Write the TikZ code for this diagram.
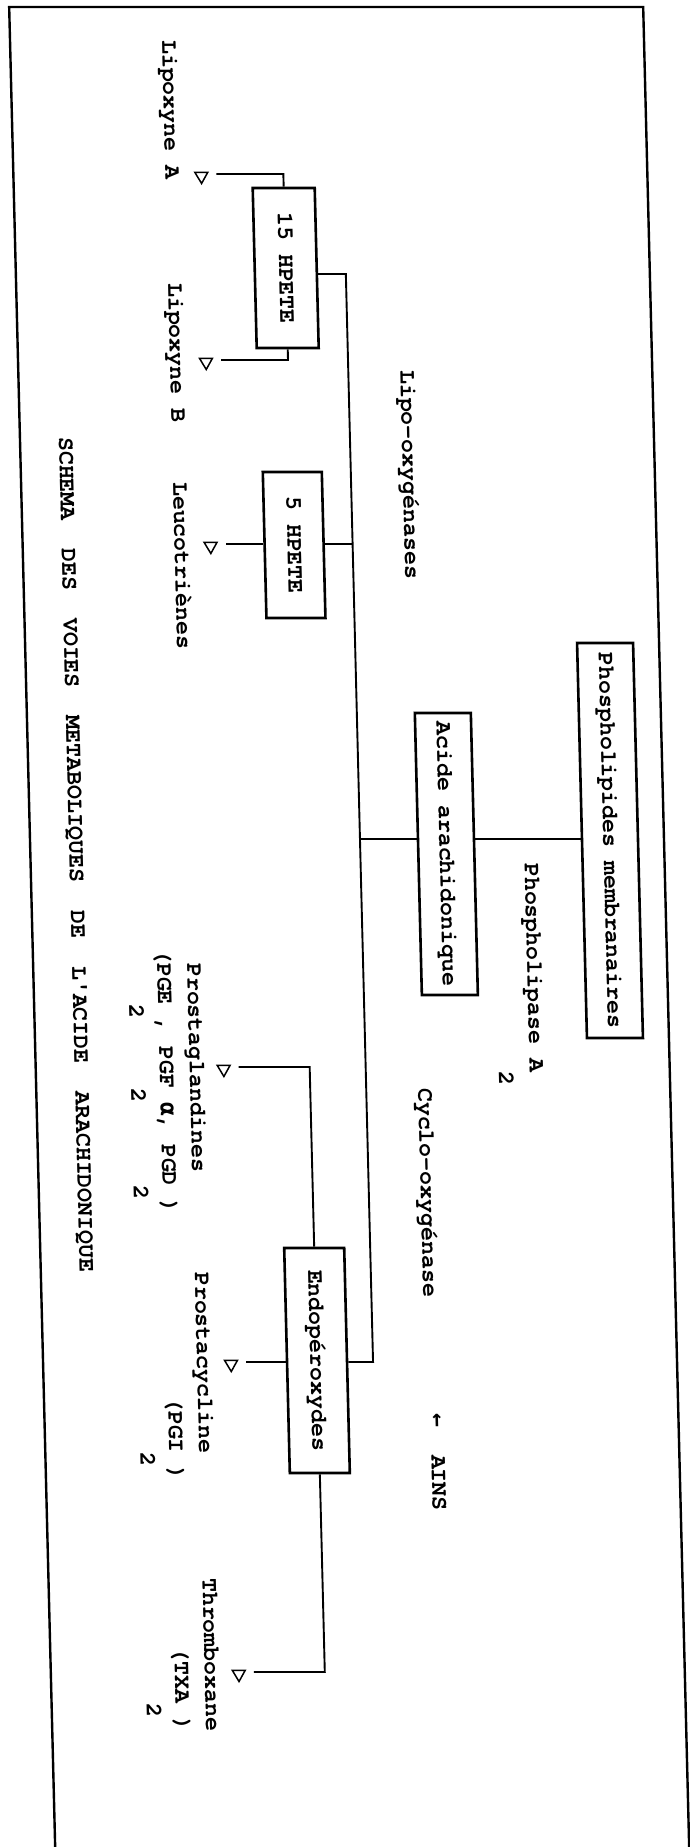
\documentclass[tikz,border=0pt]{standalone}
\usepackage{fontspec}
\usetikzlibrary{shapes.geometric}
\newfontfamily\cursorfont{texgyrecursor-bold.otf}
\newfontfamily\dejamono{DejaVu Sans Mono}
\newcommand\txtfont{\cursorfont\fontsize{23.2}{28}\selectfont}
\newcommand\gk[1]{{\dejamono\bfseries #1}}
\begin{document}
\begin{tikzpicture}[x=1pt,y=1pt,
  lab/.style={rotate=-90, anchor=base west, inner sep=0pt, font=\txtfont},
  box/.style={draw, line width=2.6pt, rotate=-90, inner sep=0pt, font=\txtfont, text height=13.2pt, text depth=0pt},
  conn/.style={line width=1.9pt},
  frame/.style={line width=2.4pt},
  tri/.style={draw, line width=1.5pt, regular polygon, regular polygon sides=3, shape border rotate=180, inner sep=0pt, minimum size=15pt}]
\useasboundingbox (0,0) rectangle (690,-1847);
\fill[white] (0,0) rectangle (690,-1847);
\begin{scope}[xslant=-0.025, transform shape]
\draw[frame] (9,-1850) -- (9,-7) -- (643,-7) -- (643,-1850);
% boxes
\node[box, minimum width=395pt, minimum height=56pt] (phos) at (589,-840.5) {Phospholipides~membranaires};
\node[box, minimum width=282pt, minimum height=56pt] (acide) at (425,-854) {Acide~arachidonique};
\node[box, minimum width=160pt, minimum height=62pt] (hp15) at (279,-268) {15~HPETE};
\node[box, minimum width=146pt, minimum height=59pt] (hp5) at (280.5,-545) {5~HPETE};
\node[box, minimum width=225pt, minimum height=60pt] (endo) at (283,-1360.5) {Endopéroxydes};
% junctions and free ends
\coordinate (m1) at (339,-274);
\coordinate (m2) at (339,-544);
\coordinate (m3) at (339,-839);
\coordinate (m4) at (339,-1362);
\coordinate (eA) at (212,-174);
\coordinate (eB) at (212,-360);
\coordinate (eL) at (212,-544);
\coordinate (ePg) at (212,-1067);
\coordinate (ePc) at (212,-1362);
\coordinate (eT) at (212,-1672);
\coordinate (kPg) at (283,-1067);
\coordinate (kT) at (283,-1672);
% arrow triangles
\node[tri] (tA) at (197,-176) {};
\node[tri] (tB) at (197,-362) {};
\node[tri] (tL) at (197,-546) {};
\node[tri] (tPg) at (197,-1069) {};
\node[tri] (tPc) at (197,-1364) {};
\node[tri] (tT) at (197,-1674) {};
% connectors
\draw[conn] (hp15.west) |- (eA);
\draw[conn] (hp15.east) |- (eB);
\draw[conn] (hp15.north |- m1) -- (m1) -- (m4) -- (endo.north |- m4);
\draw[conn] (hp5.north |- m2) -- (m2);
\draw[conn] (hp5.south |- eL) -- (eL);
\draw[conn] (m3) -- (acide.south |- m3);
\draw[conn] (acide.north |- m3) -- (phos.south |- m3);
\draw[conn] (endo.south |- m4) -- (ePc);
\draw[conn] (endo.west) -- (kPg) -- (ePg);
\draw[conn] (endo.east) -- (kT) -- (eT);
% labels
\node[lab] (lipA) at (161,-40) {Lipoxyne~A};
\node[lab] (lipB) at (161,-283) {Lipoxyne~B};
\node[lab] (leuco) at (161,-482) {Leucotriènes};
\node[lab] (lipo) at (391,-370) {Lipo-oxygénases};
\node[lab] (cyclo) at (391,-1088) {Cyclo-oxygénase};
\node[lab] (ains) at (395,-1413) {\gk{←}~~AINS};
\node[lab] (pla) at (503,-863) {Phospholipase~A};
\node[lab] (pla2) at (472,-1071.5) {2};
\node[lab] (pg1) at (163,-963) {Prostaglandines};
\node[lab] (pg2) at (133,-949) {(PGE~,~PGF~\gk{α},~PGD~)};
\node[lab] (pg3) at (104,-949) {~~~~2~~~~~2~~~~~~2};
\node[lab] (pc1) at (163,-1272) {Prostacycline};
\node[lab] (pc2) at (133,-1397) {(PGI~)};
\node[lab] (pc3) at (104,-1397) {~~~~2};
\node[lab] (tx1) at (163,-1578) {Thromboxane};
\node[lab] (tx2) at (133,-1647.5) {(TXA~)};
\node[lab] (tx3) at (104,-1647.5) {~~~~2};
\node[lab] (title) at (48,-437) {SCHEMA~~DES~~VOIES~~METABOLIQUES~~DE~~L'ACIDE~~ARACHIDONIQUE};
\end{scope}
\end{tikzpicture}
\end{document}
